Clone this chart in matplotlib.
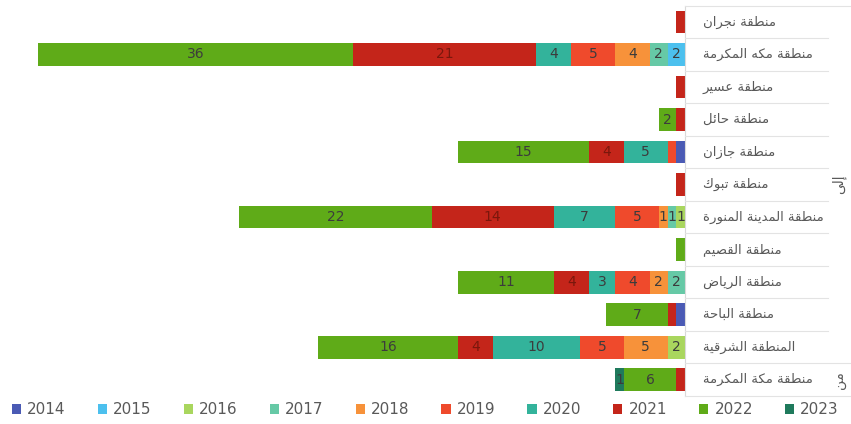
import matplotlib
matplotlib.use("Agg")
import matplotlib.pyplot as plt
import numpy as np

# ---------------- data ----------------
regions = [
    "منطقة نجران",
    "منطقة مكه المكرمة",
    "منطقة عسير",
    "منطقة حائل",
    "منطقة جازان",
    "منطقة تبوك",
    "منطقة المدينة المنورة",
    "منطقة القصيم",
    "منطقة الرياض",
    "منطقة الباحة",
    "المنطقة الشرقية",
    "منطقة مكة المكرمة",
]
groups = ["إلى", "من"]
group_sizes = [11, 1]
years = ["2014", "2015", "2016", "2017", "2018", "2019", "2020", "2021", "2022", "2023"]

v2014 = [0, 0, 0, 0, 1, 0, 0, 0, 0, 1, 0, 0]
v2015 = [0, 2, 0, 0, 0, 0, 0, 0, 0, 0, 0, 0]
v2016 = [0, 0, 0, 0, 0, 0, 1, 0, 0, 0, 2, 0]
v2017 = [0, 2, 0, 0, 0, 0, 1, 0, 2, 0, 0, 0]
v2018 = [0, 4, 0, 0, 0, 0, 1, 0, 2, 0, 5, 0]
v2019 = [0, 5, 0, 0, 1, 0, 5, 0, 4, 0, 5, 0]
v2020 = [0, 4, 0, 0, 5, 0, 7, 0, 3, 0, 10, 0]
v2021 = [1, 21, 1, 1, 4, 1, 14, 0, 4, 1, 4, 1]
v2022 = [0, 36, 0, 2, 15, 0, 22, 1, 11, 7, 16, 6]
v2023 = [0, 0, 0, 0, 0, 0, 0, 0, 0, 0, 0, 1]
series = [v2014, v2015, v2016, v2017, v2018, v2019, v2020, v2021, v2022, v2023]

colors = ["#4a5ab4", "#4cc0ee", "#a9d65e", "#66c9a6", "#f7923a",
          "#ef4a2c", "#33b39b", "#c4251a", "#5fab18", "#1f7a5c"]

# ---------------- Arabic shaping (presentation forms) ----------------
FORMS = {
    'ا': ('\uFE8D', '\uFE8E', None, None), 'أ': ('\uFE83', '\uFE84', None, None),
    'إ': ('\uFE87', '\uFE88', None, None), 'آ': ('\uFE81', '\uFE82', None, None),
    'ب': ('\uFE8F', '\uFE90', '\uFE91', '\uFE92'), 'ة': ('\uFE93', '\uFE94', None, None),
    'ت': ('\uFE95', '\uFE96', '\uFE97', '\uFE98'), 'ث': ('\uFE99', '\uFE9A', '\uFE9B', '\uFE9C'),
    'ج': ('\uFE9D', '\uFE9E', '\uFE9F', '\uFEA0'), 'ح': ('\uFEA1', '\uFEA2', '\uFEA3', '\uFEA4'),
    'خ': ('\uFEA5', '\uFEA6', '\uFEA7', '\uFEA8'), 'د': ('\uFEA9', '\uFEAA', None, None),
    'ذ': ('\uFEAB', '\uFEAC', None, None), 'ر': ('\uFEAD', '\uFEAE', None, None),
    'ز': ('\uFEAF', '\uFEB0', None, None), 'س': ('\uFEB1', '\uFEB2', '\uFEB3', '\uFEB4'),
    'ش': ('\uFEB5', '\uFEB6', '\uFEB7', '\uFEB8'), 'ص': ('\uFEB9', '\uFEBA', '\uFEBB', '\uFEBC'),
    'ض': ('\uFEBD', '\uFEBE', '\uFEBF', '\uFEC0'), 'ط': ('\uFEC1', '\uFEC2', '\uFEC3', '\uFEC4'),
    'ظ': ('\uFEC5', '\uFEC6', '\uFEC7', '\uFEC8'), 'ع': ('\uFEC9', '\uFECA', '\uFECB', '\uFECC'),
    'غ': ('\uFECD', '\uFECE', '\uFECF', '\uFED0'), 'ف': ('\uFED1', '\uFED2', '\uFED3', '\uFED4'),
    'ق': ('\uFED5', '\uFED6', '\uFED7', '\uFED8'), 'ك': ('\uFED9', '\uFEDA', '\uFEDB', '\uFEDC'),
    'ل': ('\uFEDD', '\uFEDE', '\uFEDF', '\uFEE0'), 'م': ('\uFEE1', '\uFEE2', '\uFEE3', '\uFEE4'),
    'ن': ('\uFEE5', '\uFEE6', '\uFEE7', '\uFEE8'), 'ه': ('\uFEE9', '\uFEEA', '\uFEEB', '\uFEEC'),
    'و': ('\uFEED', '\uFEEE', None, None), 'ى': ('\uFEEF', '\uFEF0', None, None),
    'ي': ('\uFEF1', '\uFEF2', '\uFEF3', '\uFEF4'), 'ئ': ('\uFE89', '\uFE8A', '\uFE8B', '\uFE8C'),
}


def shape(text):
    chars = list(text)
    out = []
    n = len(chars)
    for i, c in enumerate(chars):
        if c not in FORMS:
            out.append(c)
            continue
        f = FORMS[c]
        prev = chars[i - 1] if i > 0 else None
        nxt = chars[i + 1] if i < n - 1 else None
        join_prev = prev in FORMS and FORMS[prev][2] is not None
        join_next = f[2] is not None and nxt in FORMS
        if join_prev and join_next:
            out.append(f[3])
        elif join_prev:
            out.append(f[1])
        elif join_next:
            out.append(f[2])
        else:
            out.append(f[0])
    return "".join(out)[::-1]


# ---------------- figure ----------------
W, H = 851, 424
fig = plt.figure(figsize=(W / 100, H / 100), dpi=100)
fig.patch.set_facecolor("white")

x0, x1 = 5, 685
ytop, ybot = 5.7, 396
ax = fig.add_axes([x0 / W, 1 - ybot / H, (x1 - x0) / W, (ybot - ytop) / H])

n = len(regions)
ypos = np.arange(n)
left = np.zeros(n)
handles = []
for k, (vals, col, yr) in enumerate(zip(series, colors, years)):
    vals = np.array(vals, dtype=float)
    b = ax.barh(ypos, vals, left=left, height=0.7, color=col, label=yr, linewidth=0)
    handles.append(b)
    for i, v in enumerate(vals):
        show = v >= 2 or (v == 1 and (i == 6 or k == 9))
        if v > 0 and show:
            tc = "#7a170c" if k == 7 else "#3c3c3c"
            ax.text(left[i] + v / 2, ypos[i], f"{int(v)}", ha="center", va="center",
                    fontsize=10, color=tc)
    left = left + vals

ax.set_xlim(77.8, 0)
ax.set_ylim(n - 0.5, -0.5)
ax.set_xticks([])
ax.set_yticks([])
for s in ["top", "bottom", "left"]:
    ax.spines[s].set_visible(False)
ax.spines["right"].set_color("#d9d9d9")
ax.spines["right"].set_linewidth(0.8)

# category labels
row_h = (ybot - ytop) / n
for i, r in enumerate(regions):
    fig.text(703 / W, 1 - (ytop + (i + 0.5) * row_h) / H, shape(r),
             ha="left", va="center", fontsize=9.5, color="#595959", family="DejaVu Sans")

# separators
for i in range(n + 1):
    yy = 1 - (ytop + i * row_h) / H
    end = 851 if i in (0, 11, 12) else 828
    fig.add_artist(plt.Line2D([x1 / W, end / W], [yy, yy], color="#e3e3e3", lw=0.8))

# group labels
start = 0
for g, sz in zip(groups, group_sizes):
    yc = ytop + (start + sz / 2) * row_h
    fig.text(839 / W, 1 - yc / H, shape(g), rotation=90, ha="center", va="center",
             fontsize=10, color="#595959", family="DejaVu Sans")
    start += sz

leg = fig.legend(handles=handles, labels=years, loc="center", ncol=10,
                 bbox_to_anchor=(0.5, 1 - 410 / H), frameon=False,
                 fontsize=11, handlelength=0.6, handleheight=0.6,
                 handletextpad=0.4, columnspacing=2.1, labelcolor="#595959")

fig.savefig("out.png", dpi=100, facecolor="white")
